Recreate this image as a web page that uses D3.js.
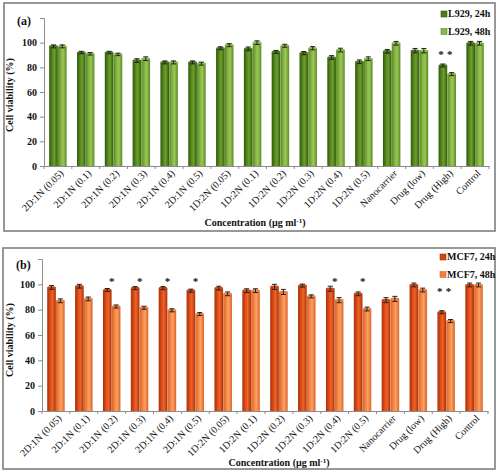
<!DOCTYPE html>
<html><head><meta charset="utf-8">
<script src="https://cdn.jsdelivr.net/npm/d3@7"></script>
<style>body{margin:0;background:#fff}svg{display:block}</style>
</head><body>
<svg id="c" width="500" height="474"></svg>
<script>
const categories = ["2D:1N (0.05)","2D:1N (0.1)","2D:1N (0.2)","2D:1N (0.3)","2D:1N (0.4)","2D:1N (0.5)","1D:2N (0.05)","1D:2N (0.1)","1D:2N (0.2)","1D:2N (0.3)","1D:2N (0.4)","1D:2N (0.5)","Nanocarrier","Drug (low)","Drug (High)","Control"];
const yTicks = [0,20,40,60,80,100,120];
const l929_24h = [97,92,92,85.5,84,84,95.5,95,92.5,91.5,88,84.5,93,93.5,81.5,99.5];
const l929_48h = [97,91,90.5,87,84,83,98,100,97.5,95.5,94,87,99.5,93.5,74.5,99.5];
const l929_err = [1.2,1,1,1.5,1.2,1.2,1.2,1.5,1.2,1.3,1.5,1.5,1.5,1.8,1.2,1.5];
const mcf7_24h = [97.5,98.5,95.5,97,97,95,97,95,98,99,96.5,92.5,87.5,99.5,78,99.5];
const mcf7_48h = [87,88.5,82.5,81.5,79.5,76.5,92.5,95,94,90.5,87.5,80.5,88.5,95.5,71,99.5];
const mcf7_err = [1.5,1.5,1.2,1.2,1.2,1.2,1.5,1.5,2,1.2,2,1.5,2,1.5,1.2,1.5];
const starsA = [{cat:"Drug (High)", s:0},{cat:"Drug (High)", s:1}];
const starsB = [{cat:"2D:1N (0.2)",s:0.5},{cat:"2D:1N (0.3)",s:0.5},{cat:"2D:1N (0.4)",s:0.5},{cat:"2D:1N (0.5)",s:0.5},{cat:"1D:2N (0.4)",s:0.5},{cat:"1D:2N (0.5)",s:0.5},{cat:"Drug (High)",s:0},{cat:"Drug (High)",s:1}];

const svg = d3.select("#c");
const defs = svg.append("defs");
function grad(id, edge, mid, hi){
  const g = defs.append("linearGradient").attr("id",id).attr("x1","0").attr("x2","1").attr("y1","0").attr("y2","0");
  g.append("stop").attr("offset","0").attr("stop-color",edge);
  g.append("stop").attr("offset","0.4").attr("stop-color",mid);
  g.append("stop").attr("offset","0.6").attr("stop-color",hi);
  g.append("stop").attr("offset","1").attr("stop-color",edge);
}
grad("g24","#2f5a0c","#5a8c20","#6e9e2c");
grad("g48","#5a8a22","#8ab848","#9cc658");
grad("o24","#a8300a","#e0501a","#f06428");
grad("o48","#d8642a","#f58c48","#ffa060");

const serif = "'Liberation Serif','Times New Roman',serif";

function panel(cfg){
  const g = svg.append("g");
  g.append("rect").attr("x",cfg.box[0]).attr("y",cfg.box[1]).attr("width",cfg.box[2]).attr("height",cfg.box[3])
    .attr("fill","#fff").attr("stroke","#7f7f7f").attr("stroke-width",1.6);
  const x = d3.scaleBand().domain(categories).range([cfg.x0,cfg.x1]).paddingInner(0.36).paddingOuter(0.18);
  const xs = d3.scaleBand().domain([0,1]).range([0,x.bandwidth()]).padding(0.02);
  const y = d3.scaleLinear().domain([0,120]).range([cfg.y0,cfg.y1]);
  const yAx = g.append("g").attr("transform",`translate(${cfg.x0},0)`)
    .call(d3.axisLeft(y).tickValues(yTicks).tickSize(4).tickFormat(d=>d===120?"":d));
  yAx.select(".domain").attr("stroke","#8c8c8c");
  yAx.selectAll(".tick line").attr("stroke","#8c8c8c");
  yAx.selectAll("text").attr("font-family",serif).attr("font-weight","bold").attr("font-size",10).attr("fill","#111");
  const xAx = g.append("g").attr("transform",`translate(0,${cfg.y0})`)
    .call(d3.axisBottom(x).tickSize(0).tickSizeOuter(0));
  xAx.select(".domain").attr("stroke","#8c8c8c");
  // category boundary ticks
  g.selectAll(".bt").data(d3.range(categories.length+1)).join("line")
    .attr("x1",i=>cfg.x0+i*(cfg.x1-cfg.x0)/categories.length)
    .attr("x2",i=>cfg.x0+i*(cfg.x1-cfg.x0)/categories.length)
    .attr("y1",cfg.y0).attr("y2",cfg.y0+3).attr("stroke","#8c8c8c");
  xAx.selectAll("text").attr("font-family",serif).attr("font-size",10).attr("fill","#111")
    .attr("text-anchor","end").attr("dy",0).attr("y",0)
    .attr("transform",`translate(${x.bandwidth()*0.35},8) rotate(-45)`);
  const series = [cfg.s24, cfg.s48];
  series.forEach((vals,s)=>{
    g.selectAll(".b"+s).data(categories).join("rect")
      .attr("x",c=>x(c)+xs(s)).attr("width",xs.bandwidth())
      .attr("y",(c,i)=>y(vals[i])).attr("height",(c,i)=>y(0)-y(vals[i]))
      .attr("fill",`url(#${cfg.fills[s]})`);
    g.selectAll(".cap"+s).data(categories).join("ellipse")
      .attr("cx",c=>x(c)+xs(s)+xs.bandwidth()/2).attr("cy",(c,i)=>y(vals[i]))
      .attr("rx",xs.bandwidth()/2).attr("ry",1.3).attr("fill",cfg.caps[s]);
    g.selectAll(".e"+s).data(categories).join("path")
      .attr("d",(c,i)=>{
        const cx = x(c)+xs(s)+xs.bandwidth()/2;
        const t = y(vals[i]+cfg.err[i]), b = y(vals[i]-cfg.err[i]);
        return `M${cx-2.5},${t}H${cx+2.5}M${cx},${t}V${b}M${cx-2.5},${b}H${cx+2.5}`;
      }).attr("stroke","#222").attr("stroke-width",1).attr("fill","none");
  });
  g.selectAll(".star").data(cfg.stars).join("text")
    .attr("x",d=>x(d.cat)+xs(d.s===0.5?1:d.s)+ (d.s===0.5?0:xs.bandwidth()/2) - (d.s===0.5?0:2))
    .attr("y",d=>cfg.starY(d))
    .attr("text-anchor","middle").attr("font-family",serif).attr("font-weight","bold").attr("font-size",11).attr("fill","#111").text("*");
  g.append("text").attr("x",cfg.label[0]).attr("y",cfg.label[1]).attr("font-family",serif).attr("font-weight","bold").attr("font-size",12).attr("fill","#111").text(cfg.labelText);
  g.append("text").attr("transform",`translate(${cfg.ytitle[0]},${cfg.ytitle[1]}) rotate(-90)`).attr("text-anchor","middle")
    .attr("font-family",serif).attr("font-weight","bold").attr("font-size",10).attr("fill","#111").text("Cell viability (%)");
  const xt = g.append("text").attr("x",cfg.xtitle[0]).attr("y",cfg.xtitle[1]).attr("text-anchor","middle")
    .attr("font-family",serif).attr("font-weight","bold").attr("font-size",10).attr("fill","#111");
  xt.append("tspan").text("Concentration (µg ml");
  xt.append("tspan").attr("dy",-3).attr("font-size",7).text("-1");
  xt.append("tspan").attr("dy",3).text(")");
  cfg.legend.forEach((t,i)=>{
    const ly = cfg.legY + i*17.5;
    g.append("rect").attr("x",cfg.legX).attr("y",ly-6).attr("width",6).attr("height",6).attr("fill",cfg.caps[i]).attr("stroke",cfg.legStroke[i]).attr("stroke-width",0.6);
    g.append("text").attr("x",cfg.legX+7).attr("y",ly).attr("font-family",serif).attr("font-weight","bold").attr("font-size",10).attr("fill","#111").text(t);
  });
}

panel({box:[4,3,491,228], x0:44, x1:489, y0:166, y1:18,
  s24:l929_24h, s48:l929_48h, err:l929_err, fills:["g24","g48"], caps:["#4a7a1a","#8ab848"], legStroke:["#2f5a0c","#5a8a22"],
  stars:starsA, starY:d=>58, label:[17,25], labelText:"(a)", ytitle:[13,95], xtitle:[255,226],
  legend:["L929, 24h","L929, 48h"], legX:441, legY:17});

panel({box:[3,248,492,221], x0:42, x1:488, y0:411, y1:259,
  s24:mcf7_24h, s48:mcf7_48h, err:mcf7_err, fills:["o24","o48"], caps:["#d04810","#f08040"], legStroke:["#a8300a","#d8642a"],
  stars:starsB, starY:d=>d.cat==="Drug (High)"?295:285, label:[16,269], labelText:"(b)", ytitle:[13,340], xtitle:[279,466],
  legend:["MCF7, 24h","MCF7, 48h"], legX:440, legY:260});
</script>
</body></html>
